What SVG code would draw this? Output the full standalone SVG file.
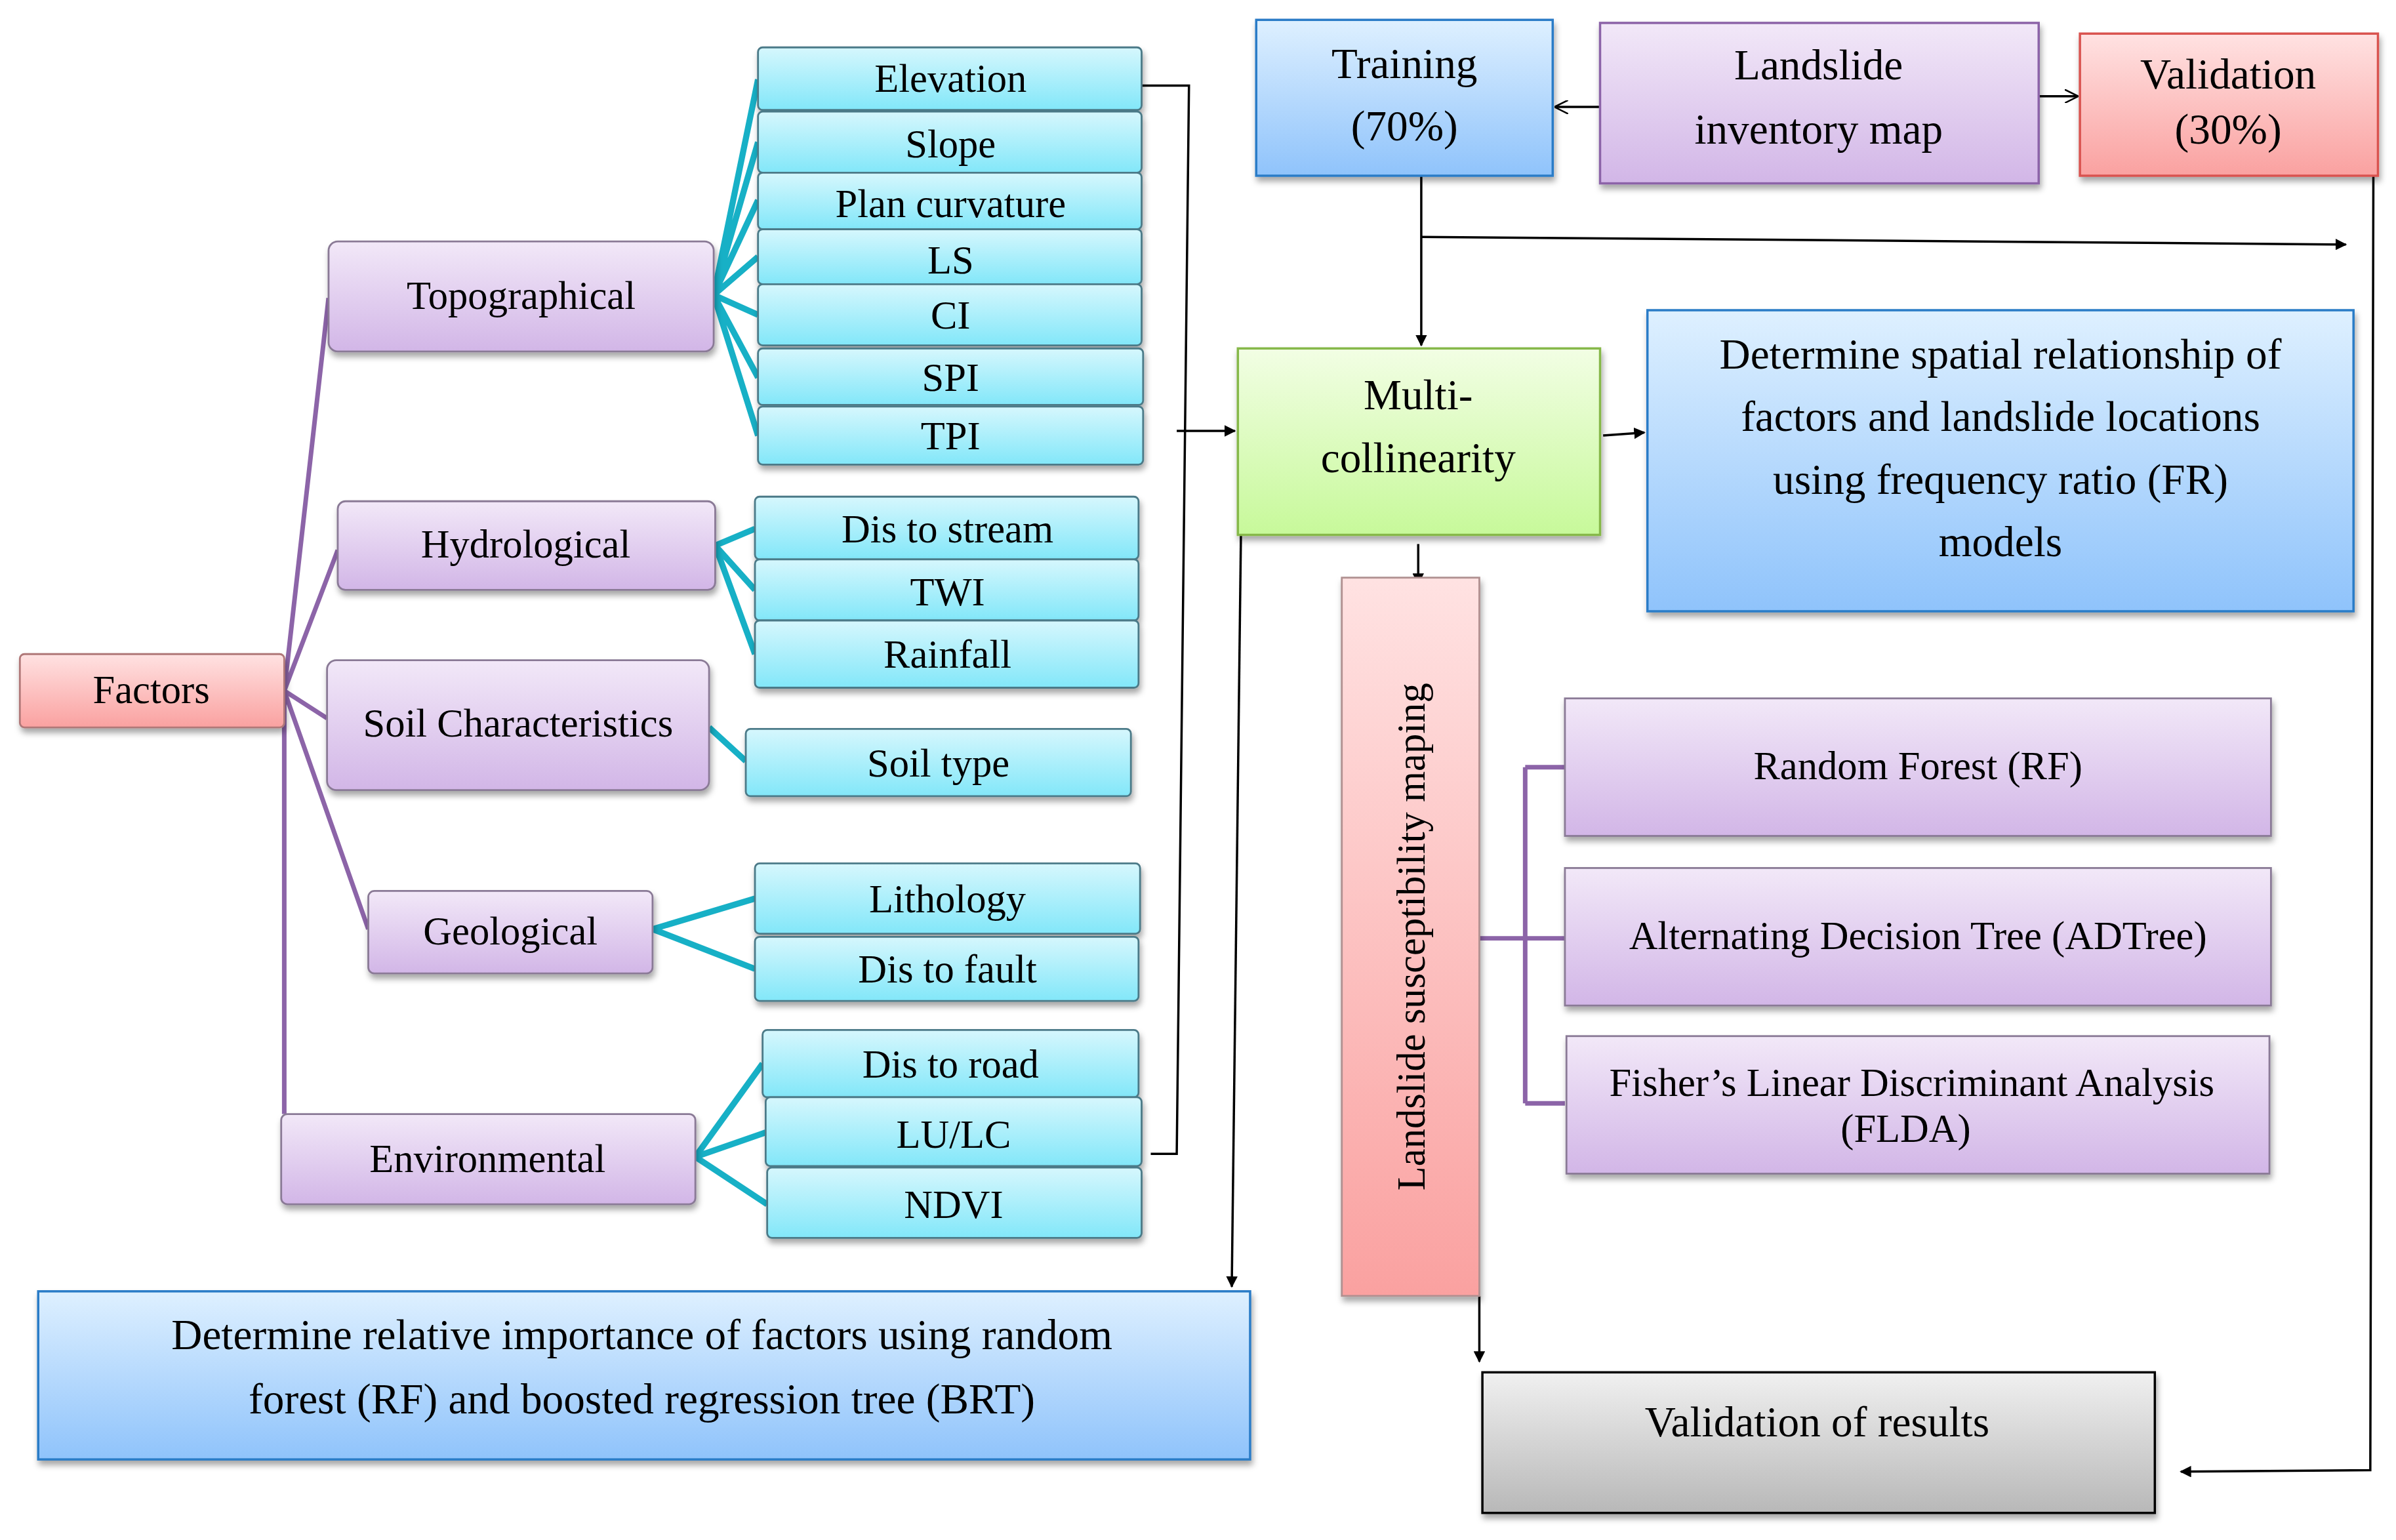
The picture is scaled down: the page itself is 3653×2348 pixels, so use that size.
<svg xmlns="http://www.w3.org/2000/svg" width="3653" height="2348" viewBox="0 0 3653 2348">
<defs>
<linearGradient id="gc" x1="0" y1="0" x2="0" y2="1"><stop offset="0" stop-color="#d6f7fd"/><stop offset="1" stop-color="#82e7f9"/></linearGradient>
<linearGradient id="gp" x1="0" y1="0" x2="0" y2="1"><stop offset="0" stop-color="#f2e8f8"/><stop offset="1" stop-color="#d2b6e7"/></linearGradient>
<linearGradient id="gb" x1="0" y1="0" x2="0" y2="1"><stop offset="0" stop-color="#def0ff"/><stop offset="1" stop-color="#8fc3fb"/></linearGradient>
<linearGradient id="gr" x1="0" y1="0" x2="0" y2="1"><stop offset="0" stop-color="#ffe2e2"/><stop offset="1" stop-color="#faa1a0"/></linearGradient>
<linearGradient id="gg" x1="0" y1="0" x2="0" y2="1"><stop offset="0" stop-color="#f2fee4"/><stop offset="1" stop-color="#c7f99a"/></linearGradient>
<linearGradient id="gy" x1="0" y1="0" x2="0" y2="1"><stop offset="0" stop-color="#f0f0f0"/><stop offset="1" stop-color="#b8b8b8"/></linearGradient>
<filter id="sh" x="-10%" y="-10%" width="130%" height="140%"><feDropShadow dx="1" dy="3" stdDeviation="2" flood-color="#000" flood-opacity="0.35"/></filter>
<marker id="ah" viewBox="0 0 10 10" refX="9" refY="5" markerWidth="5" markerHeight="5" orient="auto"><path d="M0,0 L10,5 L0,10 z" fill="#000"/></marker>
<marker id="ao" viewBox="0 0 10 10" refX="9" refY="5" markerWidth="6" markerHeight="6" orient="auto"><path d="M0,0 L10,5 L0,10" fill="none" stroke="#000" stroke-width="1.2"/></marker>
<style>
text{font-family:"Liberation Serif","Times New Roman",serif;fill:#000;text-anchor:middle}
.c{fill:url(#gc);stroke:#4b7a88;stroke-width:1.2;filter:url(#sh)}
.p{fill:url(#gp);stroke:#8a7a96;stroke-width:1.2;filter:url(#sh)}
.t{font-size:26px}
.big{font-size:28px}
.cy{stroke:#17b0c6;stroke-width:4;fill:none}
.pu{stroke:#8c64a8;stroke-width:3;fill:none}
.ln{stroke:#000;stroke-width:1.5;fill:none}
</style>
</defs>
<rect width="3653" height="2348" fill="#fff"/>
<g transform="scale(2.33)">
<g id="connectors">
<path class="pu" d="M186,452 L215,195 M186,452 L221,360 M186,452 L214,470 M186,452 L241,608 M186,452 L186,729"/>
<path class="cy" d="M467,193 L496,52 M467,193 L496,93 M467,193 L496,131 M467,193 L496,168 M467,193 L496,206 M467,193 L496,247 M467,193 L496,285"/>
<path class="cy" d="M468,357 L494,346 M468,357 L494,386 M468,357 L494,428 M464,476 L488,498 M427,608 L494,588 M427,608 L494,634 M455,757 L499,696 M455,757 L501,741 M455,757 L502,788"/>
<path class="ln" d="M747,56 L778,56 L770,755 L753,755"/>
<path class="ln" d="M770,282 L808,282" marker-end="url(#ah)"/>
<path class="ln" d="M1047,70 L1018,70" marker-end="url(#ao)"/>
<path class="ln" d="M1334,63 L1359,63" marker-end="url(#ao)"/>
<path class="ln" d="M930,112 L930,226" marker-end="url(#ah)"/>
<path class="ln" d="M930,155 L1535,160" marker-end="url(#ah)"/>
<path class="ln" d="M1553,115 L1551,962 L1427,963" marker-end="url(#ah)"/>
<path class="ln" d="M1049,285 L1076,283" marker-end="url(#ah)"/>
<path class="ln" d="M928,356 L928,382" marker-end="url(#ah)"/>
<path class="ln" d="M812,350 L806,842" marker-end="url(#ah)"/>
<path class="ln" d="M968,848 L968,891" marker-end="url(#ah)"/>
<path class="pu" stroke-width="4" d="M968,614 L1024,614 M998,502 L998,722 M998,502 L1024,502 M998,722 L1024,722"/>
</g>
<g id="factors"><rect x="13" y="428" width="173" height="48" rx="3" fill="url(#gr)" stroke="#b07878" stroke-width="1.2" filter="url(#sh)"/><text class="t" x="99" y="460">Factors</text></g>
<g id="topographical"><rect class="p" x="215" y="158" width="252" height="72" rx="6"/><text class="t" x="341" y="202">Topographical</text></g>
<g id="hydrological"><rect class="p" x="221" y="328" width="247" height="58" rx="5"/><text class="t" x="344" y="365">Hydrological</text></g>
<g id="soil"><rect class="p" x="214" y="432" width="250" height="85" rx="6"/><text class="t" x="339" y="482">Soil Characteristics</text></g>
<g id="geological"><rect class="p" x="241" y="583" width="186" height="54" rx="4"/><text class="t" x="334" y="618">Geological</text></g>
<g id="environmental"><rect class="p" x="184" y="729" width="271" height="59" rx="4"/><text class="t" x="319" y="767">Environmental</text></g>
<g id="elevation"><rect class="c" x="496" y="31" width="251" height="41" rx="3"/><text class="t" x="622" y="60">Elevation</text></g>
<g id="slope"><rect class="c" x="496" y="73" width="251" height="40" rx="3"/><text class="t" x="622" y="103">Slope</text></g>
<g id="plan"><rect class="c" x="496" y="113" width="251" height="37" rx="3"/><text class="t" x="622" y="142">Plan curvature</text></g>
<g id="ls"><rect class="c" x="496" y="150" width="251" height="36" rx="3"/><text class="t" x="622" y="179">LS</text></g>
<g id="ci"><rect class="c" x="496" y="186" width="251" height="40" rx="3"/><text class="t" x="622" y="215">CI</text></g>
<g id="spi"><rect class="c" x="496" y="228" width="252" height="37" rx="3"/><text class="t" x="622" y="256">SPI</text></g>
<g id="tpi"><rect class="c" x="496" y="266" width="252" height="38" rx="3"/><text class="t" x="622" y="294">TPI</text></g>
<g id="stream"><rect class="c" x="494" y="325" width="251" height="41" rx="3"/><text class="t" x="620" y="355">Dis to stream</text></g>
<g id="twi"><rect class="c" x="494" y="366" width="251" height="40" rx="3"/><text class="t" x="620" y="396">TWI</text></g>
<g id="rainfall"><rect class="c" x="494" y="406" width="251" height="44" rx="3"/><text class="t" x="620" y="437">Rainfall</text></g>
<g id="soiltype"><rect class="c" x="488" y="477" width="252" height="44" rx="3"/><text class="t" x="614" y="508">Soil type</text></g>
<g id="lithology"><rect class="c" x="494" y="565" width="252" height="46" rx="3"/><text class="t" x="620" y="597">Lithology</text></g>
<g id="fault"><rect class="c" x="494" y="613" width="251" height="42" rx="3"/><text class="t" x="620" y="643">Dis to fault</text></g>
<g id="road"><rect class="c" x="499" y="674" width="246" height="44" rx="3"/><text class="t" x="622" y="705">Dis to road</text></g>
<g id="lulc"><rect class="c" x="501" y="718" width="246" height="45" rx="3"/><text class="t" x="624" y="751">LU/LC</text></g>
<g id="ndvi"><rect class="c" x="502" y="764" width="245" height="46" rx="3"/><text class="t" x="624" y="797">NDVI</text></g>
<g id="training"><rect x="822" y="13" width="194" height="102" fill="url(#gb)" stroke="#2a7cc7" stroke-width="1.5" filter="url(#sh)"/><text class="big" x="919" y="51">Training</text><text class="big" x="919" y="92">(70%)</text></g>
<g id="inventory"><rect x="1047" y="15" width="287" height="105" fill="url(#gp)" stroke="#8c64a8" stroke-width="1.5" filter="url(#sh)"/><text class="big" x="1190" y="52">Landslide</text><text class="big" x="1190" y="94">inventory map</text></g>
<g id="validation"><rect x="1361" y="22" width="195" height="93" fill="url(#gr)" stroke="#d9534f" stroke-width="1.5" filter="url(#sh)"/><text class="big" x="1458" y="58">Validation</text><text class="big" x="1458" y="94">(30%)</text></g>
<g id="multi"><rect x="810" y="228" width="237" height="122" fill="url(#gg)" stroke="#86b84a" stroke-width="1.5" filter="url(#sh)"/><text class="big" x="928" y="268">Multi-</text><text class="big" x="928" y="309">collinearity</text></g>
<g id="spatial"><rect x="1078" y="203" width="462" height="197" fill="url(#gb)" stroke="#2a7cc7" stroke-width="1.5" filter="url(#sh)"/><text class="big" x="1309" y="241">Determine spatial relationship of</text><text class="big" x="1309" y="282">factors and landslide locations</text><text class="big" x="1309" y="323">using frequency ratio (FR)</text><text class="big" x="1309" y="364">models</text></g>
<g id="lsm"><rect x="878" y="378" width="90" height="470" fill="url(#gr)" stroke="#b09090" stroke-width="1.2" filter="url(#sh)"/><text class="t" transform="translate(932,613) rotate(-90)">Landslide susceptibility maping</text></g>
<g id="rf"><rect class="p" x="1024" y="457" width="462" height="90"/><text class="t" x="1255" y="510">Random Forest (RF)</text></g>
<g id="adtree"><rect class="p" x="1024" y="568" width="462" height="90"/><text class="t" x="1255" y="621">Alternating Decision Tree (ADTree)</text></g>
<g id="flda"><rect class="p" x="1025" y="678" width="460" height="90"/><text class="t" x="1251" y="717">Fisher’s Linear Discriminant Analysis</text><text class="t" x="1247" y="747">(FLDA)</text></g>
<g id="relative"><rect x="25" y="845" width="793" height="110" fill="url(#gb)" stroke="#2a7cc7" stroke-width="1.5" filter="url(#sh)"/><text class="big" x="420" y="883">Determine relative importance of factors using random</text><text class="big" x="420" y="925">forest (RF) and boosted regression tree (BRT)</text></g>
<g id="results"><rect x="970" y="898" width="440" height="92" fill="url(#gy)" stroke="#000" stroke-width="1.5" filter="url(#sh)"/><text class="big" x="1189" y="940">Validation of results</text></g>
</g>
</svg>
